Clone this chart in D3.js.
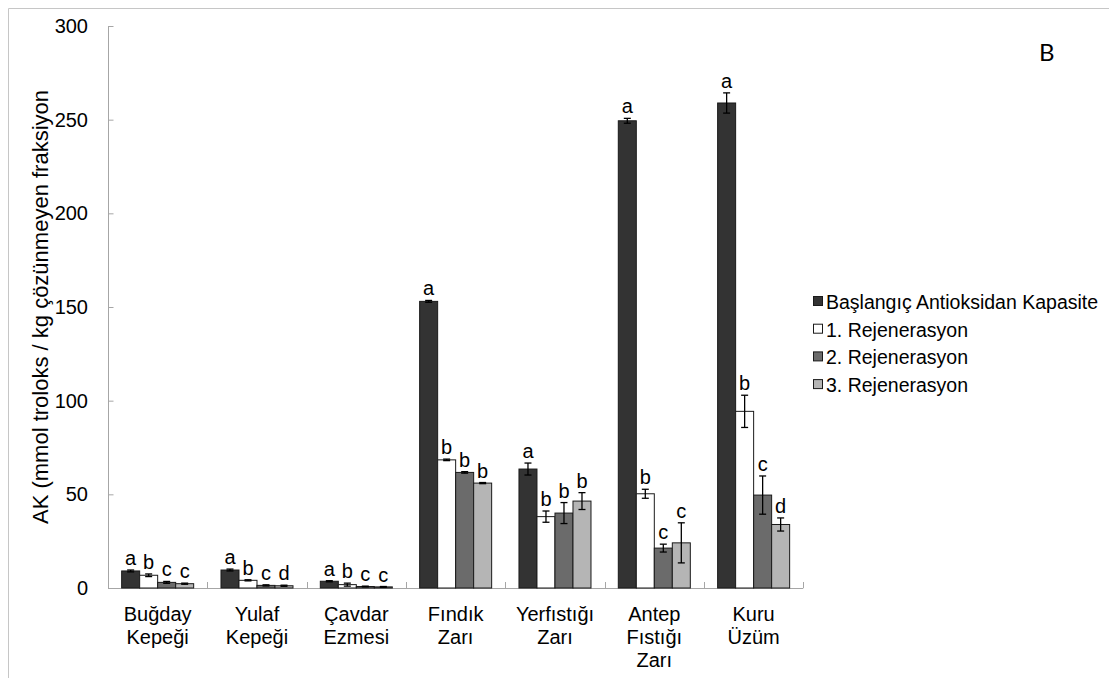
<!DOCTYPE html>
<html>
<head>
<meta charset="utf-8">
<script src="https://cdn.jsdelivr.net/npm/d3@7"></script>
<style>
  html, body { margin: 0; padding: 0; background: #fff; }
  svg { display: block; font-family: "Liberation Sans", Arial, sans-serif; }
</style>
</head>
<body>
<svg id="chart" width="1109" height="678"></svg>
<script>
// Sample groups (multi-line axis labels)
const categories = [
  ["Buğday", "Kepeği"],
  ["Yulaf", "Kepeği"],
  ["Çavdar", "Ezmesi"],
  ["Fındık", "Zarı"],
  ["Yerfıstığı", "Zarı"],
  ["Antep", "Fıstığı", "Zarı"],
  ["Kuru", "Üzüm"]
];

const seriesNames = [
  "Başlangıç Antioksidan Kapasite",
  "1. Rejenerasyon",
  "2. Rejenerasyon",
  "3. Rejenerasyon"
];

// Mean antioxidant capacity (mmol trolox / kg insoluble fraction)
const baslangic = [9.1, 9.6, 3.6, 153, 63.5, 249.4, 258.9];
const rejenerasyon1 = [6.8, 4.1, 1.8, 68.4, 38.1, 50.3, 94.3];
const rejenerasyon2 = [3.0, 1.4, 0.8, 61.7, 40.0, 21.3, 49.6];
const rejenerasyon3 = [2.3, 1.2, 0.6, 56.0, 46.4, 24.1, 33.9];

// Standard deviations
const sd0 = [0.5, 0.5, 0.3, 0.5, 3.2, 1.3, 5.4];
const sd1 = [0.7, 0.3, 0.8, 0.4, 3.0, 2.4, 8.6];
const sd2 = [0.5, 0.3, 0.2, 0.4, 5.6, 2.1, 10.2];
const sd3 = [0.3, 0.3, 0.2, 0.3, 4.5, 10.7, 3.5];

// Significance letters
const letters0 = ["a", "a", "a", "a", "a", "a", "a"];
const letters1 = ["b", "b", "b", "b", "b", "b", "b"];
const letters2 = ["c", "c", "c", "b", "b", "c", "c"];
const letters3 = ["c", "d", "c", "b", "b", "c", "d"];

const yTicks = [0, 50, 100, 150, 200, 250, 300];

const fills = ["#333333", "#ffffff", "#6b6b6b", "#b5b5b5"];

const values = [baslangic, rejenerasyon1, rejenerasyon2, rejenerasyon3];
const sds = [sd0, sd1, sd2, sd3];
const letters = [letters0, letters1, letters2, letters3];

const svg = d3.select("#chart");
const axisColor = "#a6a6a6";

// Outer frame (left and top edges)
svg.append("path")
  .attr("d", "M8.5,678 L8.5,8.5 L1109,8.5")
  .attr("fill", "none")
  .attr("stroke", "#c6c6c6")
  .attr("stroke-width", 1);

const plotLeft = 108, plotRight = 803.3, plotTop = 26, plotBottom = 588;
const groupKeys = categories.map(c => c.join(" "));

const x0 = d3.scaleBand()
  .domain(groupKeys)
  .range([plotLeft, plotRight])
  .paddingInner(0.275)
  .paddingOuter(0.1375);

const x1 = d3.scaleBand()
  .domain(d3.range(seriesNames.length))
  .range([0, x0.bandwidth()]);

const y = d3.scaleLinear().domain([0, 300]).range([plotBottom, plotTop]);

// Y axis with inward ticks
const yAxis = svg.append("g")
  .attr("transform", `translate(${plotLeft},0)`)
  .call(d3.axisRight(y).tickValues(yTicks).tickSize(5).tickFormat(""));
yAxis.select(".domain").attr("stroke", axisColor).attr("d", `M0.5,${plotTop}V${plotBottom}`);
yAxis.selectAll(".tick line").attr("stroke", axisColor).attr("transform", "translate(0.5,0)");

svg.append("g").selectAll("text")
  .data(yTicks)
  .join("text")
  .attr("x", 88)
  .attr("y", d => y(d))
  .attr("dy", "0.35em")
  .attr("text-anchor", "end")
  .attr("font-size", 20)
  .attr("fill", "#000")
  .text(d => d);

// X axis baseline with inward ticks at group boundaries
const boundaries = d3.range(categories.length + 1).map(i => plotLeft + i * x0.step());
svg.append("line")
  .attr("x1", plotLeft).attr("x2", plotRight)
  .attr("y1", plotBottom + 0.5).attr("y2", plotBottom + 0.5)
  .attr("stroke", axisColor);
svg.append("g").selectAll("line")
  .data(boundaries)
  .join("line")
  .attr("x1", d => Math.round(d) + 0.5).attr("x2", d => Math.round(d) + 0.5)
  .attr("y1", plotBottom).attr("y2", plotBottom - 6)
  .attr("stroke", axisColor);

// Category labels
const catG = svg.append("g");
categories.forEach((lines, i) => {
  const cx = x0(groupKeys[i]) + x0.bandwidth() / 2;
  const t = catG.append("text")
    .attr("text-anchor", "middle")
    .attr("font-size", 20)
    .attr("fill", "#000");
  lines.forEach((ln, j) => {
    t.append("tspan").attr("x", cx).attr("y", 621 + j * 23).text(ln);
  });
});

// Bars, error bars and letters
const barData = [];
categories.forEach((c, i) => {
  seriesNames.forEach((s, k) => {
    barData.push({
      key: groupKeys[i], k,
      v: values[k][i], sd: sds[k][i], letter: letters[k][i]
    });
  });
});

const bars = svg.append("g");
bars.selectAll("rect")
  .data(barData)
  .join("rect")
  .attr("x", d => x0(d.key) + x1(d.k))
  .attr("width", x1.bandwidth())
  .attr("y", d => y(d.v))
  .attr("height", d => y(0) - y(d.v))
  .attr("fill", d => fills[d.k])
  .attr("stroke", "#1a1a1a")
  .attr("stroke-width", 1);

const capHalf = 3.5;
const err = svg.append("g").attr("stroke", "#000").attr("stroke-width", 1.3);
barData.forEach(d => {
  const cx = x0(d.key) + x1(d.k) + x1.bandwidth() / 2;
  const yHi = y(d.v + d.sd), yLo = y(Math.max(0, d.v - d.sd));
  err.append("line").attr("x1", cx).attr("x2", cx).attr("y1", yHi).attr("y2", yLo);
  err.append("line").attr("x1", cx - capHalf).attr("x2", cx + capHalf).attr("y1", yHi).attr("y2", yHi);
  err.append("line").attr("x1", cx - capHalf).attr("x2", cx + capHalf).attr("y1", yLo).attr("y2", yLo);
});

svg.append("g").selectAll("text")
  .data(barData)
  .join("text")
  .attr("x", d => x0(d.key) + x1(d.k) + x1.bandwidth() / 2)
  .attr("y", d => y(d.v + d.sd) - 5)
  .attr("text-anchor", "middle")
  .attr("font-size", 20)
  .attr("fill", "#000")
  .text(d => d.letter);

// Y axis title
svg.append("text")
  .attr("transform", "translate(48,307) rotate(-90)")
  .attr("text-anchor", "middle")
  .attr("font-size", 22)
  .attr("fill", "#000")
  .text("AK (mmol troloks / kg çözünmeyen fraksiyon");

// Panel letter
svg.append("text")
  .attr("x", 1039)
  .attr("y", 61)
  .attr("font-family", "Lato, 'Open Sans', sans-serif")
  .attr("font-size", 24)
  .attr("fill", "#000")
  .text("B");

// Legend
const legend = svg.append("g");
seriesNames.forEach((name, k) => {
  const ly = 302 + k * 27.7;
  legend.append("rect")
    .attr("x", 813.5).attr("y", ly - 5.5)
    .attr("width", 9).attr("height", 9)
    .attr("fill", fills[k])
    .attr("stroke", "#1a1a1a");
  legend.append("text")
    .attr("x", 826)
    .attr("y", ly)
    .attr("dy", "0.35em")
    .attr("font-size", 19.5)
    .attr("fill", "#000")
    .text(name);
});
</script>
</body>
</html>
